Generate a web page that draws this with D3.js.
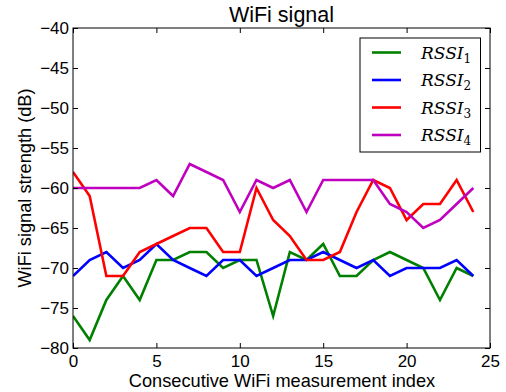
<!DOCTYPE html>
<html><head><meta charset="utf-8">
<script src="https://cdn.jsdelivr.net/npm/d3@7"></script>
<style>body{margin:0;background:#fff}svg{display:block}</style>
</head><body>
<svg id="c" width="506" height="392"></svg>
<script>
const xIndex = d3.range(0, 25);
const rssi1 = [-76,-79,-74,-71,-74,-69,-69,-68,-68,-70,-69,-69,-76,-68,-69,-67,-71,-71,-69,-68,-69,-70,-74,-70,-71];
const rssi2 = [-71,-69,-68,-70,-69,-67,-69,-70,-71,-69,-69,-71,-70,-69,-69,-68,-69,-70,-69,-71,-70,-70,-70,-69,-71];
const rssi3 = [-58,-61,-71,-71,-68,-67,-66,-65,-65,-68,-68,-60,-64,-66,-69,-69,-68,-63,-59,-60,-64,-62,-62,-59,-63];
const rssi4 = [-60,-60,-60,-60,-60,-59,-61,-57,-58,-59,-63,-59,-60,-59,-63,-59,-59,-59,-59,-62,-63,-65,-64,-62,-60];
const seriesNames = ["1","2","3","4"];
const seriesColors = ["#008000","#0000ff","#ff0000","#bf00bf"];
const xTicks = [0,5,10,15,20,25];
const yTicks = [-80,-75,-70,-65,-60,-55,-50,-45,-40];

(function(){
const svg = d3.select("#c");
const L = 73, R = 490, T = 28, B = 348;
const x = d3.scaleLinear().domain([0,25]).range([L,R]);
const y = d3.scaleLinear().domain([-80,-40]).range([B,T]);
const font = "'Liberation Sans', Arial, sans-serif";
const fmt = d => d < 0 ? "\u2212" + Math.abs(d) : String(d);

const all = [rssi1, rssi2, rssi3, rssi4];
const line = d3.line().x((d,i)=>x(xIndex[i])).y(d=>y(d));
const g = svg.append("g");
g.append("clipPath").attr("id","clip").append("rect").attr("x",L).attr("y",T).attr("width",R-L).attr("height",B-T);
all.forEach((s,k)=>{
  g.append("path").attr("d", line(s)).attr("fill","none").attr("stroke",seriesColors[k])
   .attr("stroke-width",2.6).attr("stroke-linejoin","miter").attr("clip-path","url(#clip)");
});

const ax = (gen, tr) => svg.append("g").attr("transform", tr).call(gen);
const aBottom = ax(d3.axisBottom(x).tickValues(xTicks).tickSizeInner(-5).tickSizeOuter(0).tickPadding(5).tickFormat(fmt), `translate(0,${B})`);
const aTop = ax(d3.axisTop(x).tickValues(xTicks).tickSizeInner(-5).tickSizeOuter(0).tickFormat(""), `translate(0,${T})`);
const aLeft = ax(d3.axisLeft(y).tickValues(yTicks).tickSizeInner(-5).tickSizeOuter(0).tickPadding(4).tickFormat(fmt), `translate(${L},0)`);
const aRight = ax(d3.axisRight(y).tickValues(yTicks).tickSizeInner(-5).tickSizeOuter(0).tickFormat(""), `translate(${R},0)`);
[aBottom,aTop,aLeft,aRight].forEach(a=>{
  a.select(".domain").remove();
  a.selectAll(".tick line").attr("stroke","#000").attr("stroke-width",1);
  a.selectAll("text").attr("font-family",font).attr("font-size",17).attr("fill","#000");
});
aBottom.selectAll("text").attr("dy","0.8em");
svg.append("rect").attr("x",L).attr("y",T).attr("width",R-L).attr("height",B-T)
  .attr("fill","none").attr("stroke","#000").attr("stroke-width",1);

svg.append("text").attr("x",(L+R)/2).attr("y",22).attr("text-anchor","middle")
  .attr("font-family",font).attr("font-size",21.5).text("WiFi signal");
svg.append("text").attr("x",(L+R)/2+0.5).attr("y",387).attr("text-anchor","middle")
  .attr("font-family",font).attr("font-size",18.2).text("Consecutive WiFi measurement index");
svg.append("text").attr("transform",`translate(31,${(T+B)/2}) rotate(-90)`).attr("text-anchor","middle")
  .attr("font-family",font).attr("font-size",18.2).text("WiFi signal strength (dB)");

const lg = svg.append("g");
lg.append("rect").attr("x",360).attr("y",38).attr("width",120.5).attr("height",114)
  .attr("fill","#fff").attr("stroke","#000").attr("stroke-width",1);
seriesNames.forEach((n,i)=>{
  const yy = 52.5 + i*27.5;
  lg.append("line").attr("x1",372).attr("x2",401).attr("y1",yy).attr("y2",yy)
    .attr("stroke",seriesColors[i]).attr("stroke-width",2.6);
  const t = lg.append("text").attr("x",421).attr("y",yy+6).attr("font-family","'DejaVu Serif', serif")
    .attr("font-style","italic").attr("font-size",17);
  t.append("tspan").text("RSSI");
  t.append("tspan").attr("font-style","normal").attr("font-size",12).attr("dy",4).text(n);
});
})();
</script>
</body></html>
